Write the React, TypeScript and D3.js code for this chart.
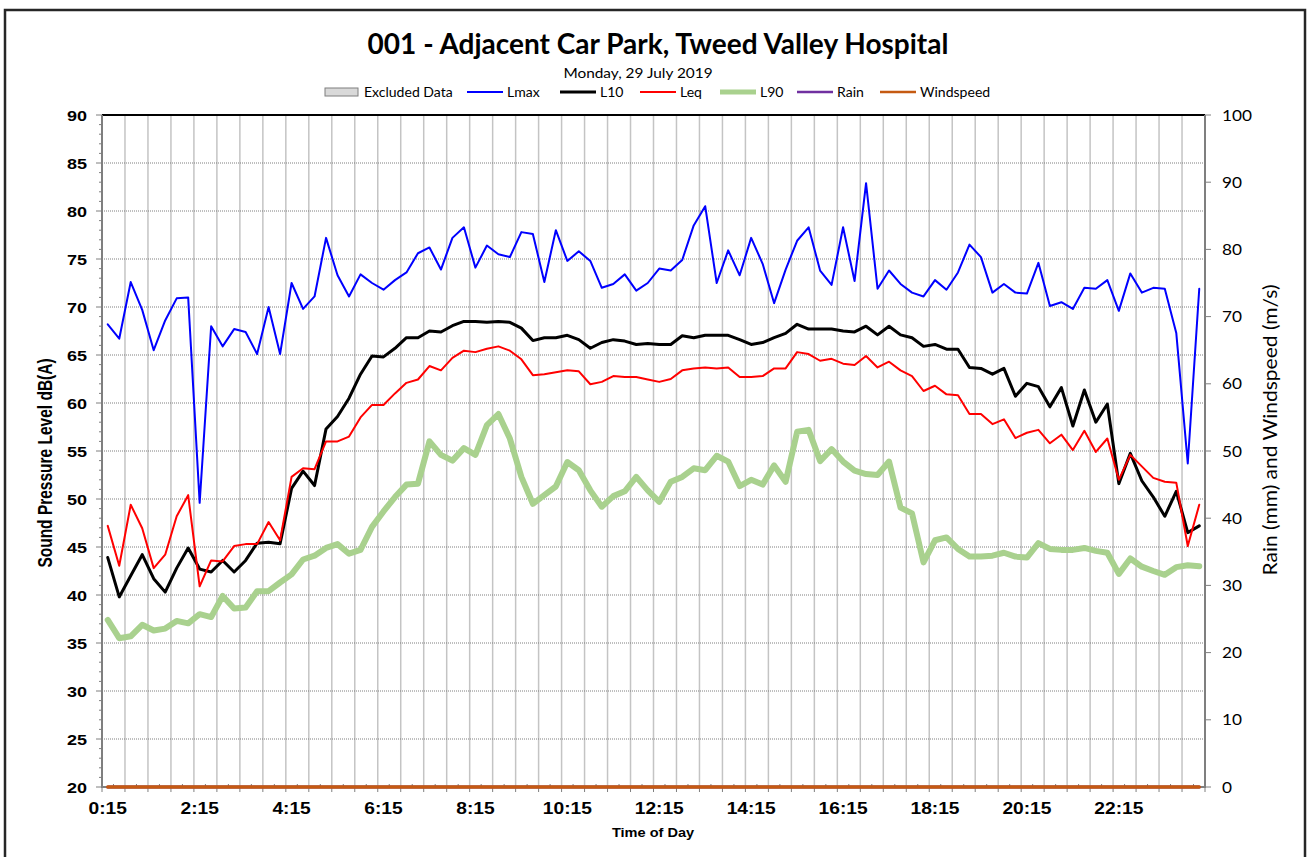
import React from 'react'
import * as d3 from 'd3'

// 15-minute intervals, 0:15 .. 24:00
const times = [
  '0:15', '0:30', '0:45', '1:00', '1:15', '1:30', '1:45', '2:00', '2:15', '2:30', '2:45', '3:00',
  '3:15', '3:30', '3:45', '4:00', '4:15', '4:30', '4:45', '5:00', '5:15', '5:30', '5:45', '6:00',
  '6:15', '6:30', '6:45', '7:00', '7:15', '7:30', '7:45', '8:00', '8:15', '8:30', '8:45', '9:00',
  '9:15', '9:30', '9:45', '10:00', '10:15', '10:30', '10:45', '11:00', '11:15', '11:30', '11:45', '12:00',
  '12:15', '12:30', '12:45', '13:00', '13:15', '13:30', '13:45', '14:00', '14:15', '14:30', '14:45', '15:00',
  '15:15', '15:30', '15:45', '16:00', '16:15', '16:30', '16:45', '17:00', '17:15', '17:30', '17:45', '18:00',
  '18:15', '18:30', '18:45', '19:00', '19:15', '19:30', '19:45', '20:00', '20:15', '20:30', '20:45', '21:00',
  '21:15', '21:30', '21:45', '22:00', '22:15', '22:30', '22:45', '23:00', '23:15', '23:30', '23:45', '24:00',
]
const tickLabels = ['0:15', '2:15', '4:15', '6:15', '8:15', '10:15', '12:15', '14:15', '16:15', '18:15', '20:15', '22:15']
const leftTicks = [20, 25, 30, 35, 40, 45, 50, 55, 60, 65, 70, 75, 80, 85, 90]
const rightTicks = [0, 10, 20, 30, 40, 50, 60, 70, 80, 90, 100]

const lmax = [
  68.2, 66.7, 72.6, 69.7, 65.5, 68.6, 70.9, 71.0, 49.6, 68.0,
  65.9, 67.7, 67.4, 65.1, 70.0, 65.1, 72.5, 69.8, 71.1, 77.2,
  73.3, 71.1, 73.4, 72.5, 71.8, 72.8, 73.6, 75.6, 76.2, 73.9,
  77.2, 78.3, 74.1, 76.4, 75.5, 75.2, 77.8, 77.6, 72.6, 78.0,
  74.8, 75.8, 74.8, 72.0, 72.4, 73.4, 71.7, 72.5, 74.0, 73.8,
  74.9, 78.5, 80.5, 72.5, 75.9, 73.3, 77.2, 74.5, 70.4, 73.9,
  76.9, 78.3, 73.8, 72.3, 78.3, 72.7, 82.9, 71.9, 73.8, 72.4,
  71.5, 71.1, 72.8, 71.8, 73.6, 76.5, 75.2, 71.5, 72.4, 71.5,
  71.4, 74.6, 70.1, 70.5, 69.8, 72.0, 71.9, 72.8, 69.6, 73.5,
  71.5, 72.0, 71.9, 67.3, 53.7, 71.9,
]
const l10 = [
  43.9, 39.8, 42.0, 44.2, 41.7, 40.3, 42.8, 44.9, 42.7, 42.4,
  43.6, 42.4, 43.6, 45.4, 45.5, 45.35, 51.1, 52.9, 51.4, 57.3,
  58.6, 60.5, 63.0, 64.9, 64.8, 65.7, 66.8, 66.8, 67.5, 67.4,
  68.05, 68.5, 68.5, 68.4, 68.5, 68.4, 67.8, 66.5, 66.8, 66.8,
  67.05, 66.6, 65.7, 66.3, 66.6, 66.45, 66.1, 66.2, 66.1, 66.1,
  67.0, 66.8, 67.05, 67.05, 67.05, 66.6, 66.1, 66.3, 66.8, 67.25,
  68.2, 67.7, 67.7, 67.7, 67.5, 67.4, 68.0, 67.1, 68.0, 67.1,
  66.8, 65.9, 66.1, 65.6, 65.6, 63.7, 63.6, 63.0, 63.6, 60.7,
  62.05, 61.7, 59.6, 61.6, 57.6, 61.35, 58.0, 59.9, 51.6, 54.75,
  51.9, 50.2, 48.2, 50.8, 46.5, 47.2,
]
const leq = [
  47.2, 43.05, 49.4, 46.95, 42.8, 44.2, 48.2, 50.4, 40.9, 43.6,
  43.5, 45.1, 45.3, 45.3, 47.6, 45.7, 52.3, 53.2, 53.1, 56.0,
  56.0, 56.5, 58.5, 59.8, 59.8, 61.0, 62.1, 62.45, 63.85, 63.4,
  64.7, 65.45, 65.3, 65.65, 65.9, 65.45, 64.55, 62.9, 63.0, 63.2,
  63.4, 63.3, 61.95, 62.2, 62.8, 62.7, 62.7, 62.45, 62.2, 62.5,
  63.4, 63.6, 63.7, 63.6, 63.7, 62.7, 62.7, 62.8, 63.6, 63.6,
  65.3, 65.1, 64.4, 64.6, 64.1, 63.95, 64.9, 63.7, 64.3, 63.4,
  62.8, 61.25, 61.8, 60.9, 60.8, 58.85, 58.85, 57.8, 58.3, 56.35,
  56.9, 57.2, 55.8, 56.7, 55.1, 57.1, 54.9, 56.3, 52.0, 54.6,
  53.4, 52.2, 51.8, 51.7, 45.1, 49.4,
]
const l90 = [
  37.4, 35.5, 35.7, 36.9, 36.3, 36.5, 37.3, 37.05, 38.0, 37.7,
  39.9, 38.6, 38.7, 40.4, 40.4, 41.3, 42.15, 43.7, 44.1, 44.9,
  45.3, 44.3, 44.7, 47.1, 48.7, 50.2, 51.5, 51.6, 56.0, 54.6,
  54.0, 55.3, 54.6, 57.7, 58.85, 56.3, 52.3, 49.5, 50.4, 51.3,
  53.85, 53.0, 50.9, 49.2, 50.3, 50.8, 52.3, 50.9, 49.7, 51.8,
  52.3, 53.2, 53.0, 54.5, 53.9, 51.35, 52.0, 51.5, 53.5, 51.8,
  57.0, 57.2, 53.95, 55.2, 53.9, 52.95, 52.6, 52.5, 53.9, 49.1,
  48.5, 43.4, 45.7, 46.0, 44.8, 44.0, 44.0, 44.1, 44.4, 44.0,
  43.9, 45.4, 44.8, 44.7, 44.7, 44.9, 44.6, 44.4, 42.2, 43.8,
  42.95, 42.5, 42.1, 42.9, 43.1, 43.0,
]
const rain = [
  0, 0, 0, 0, 0, 0, 0, 0, 0, 0, 0, 0, 0, 0, 0, 0, 0, 0, 0, 0, 0, 0, 0, 0,
  0, 0, 0, 0, 0, 0, 0, 0, 0, 0, 0, 0, 0, 0, 0, 0, 0, 0, 0, 0, 0, 0, 0, 0,
  0, 0, 0, 0, 0, 0, 0, 0, 0, 0, 0, 0, 0, 0, 0, 0, 0, 0, 0, 0, 0, 0, 0, 0,
  0, 0, 0, 0, 0, 0, 0, 0, 0, 0, 0, 0, 0, 0, 0, 0, 0, 0, 0, 0, 0, 0, 0, 0,
]
const windspeed = [
  0, 0, 0, 0, 0, 0, 0, 0, 0, 0, 0, 0, 0, 0, 0, 0, 0, 0, 0, 0, 0, 0, 0, 0,
  0, 0, 0, 0, 0, 0, 0, 0, 0, 0, 0, 0, 0, 0, 0, 0, 0, 0, 0, 0, 0, 0, 0, 0,
  0, 0, 0, 0, 0, 0, 0, 0, 0, 0, 0, 0, 0, 0, 0, 0, 0, 0, 0, 0, 0, 0, 0, 0,
  0, 0, 0, 0, 0, 0, 0, 0, 0, 0, 0, 0, 0, 0, 0, 0, 0, 0, 0, 0, 0, 0, 0, 0,
]

const W = 1309
const H = 857
const margin = { left: 102, right: 1205, top: 115, bottom: 787 }
const ARIAL = '"Liberation Sans", Arial, sans-serif'
const CAL = 'Lato, "Open Sans", sans-serif'

// text with a little horizontal stretch, like the exported Excel chart
const Txt = ({ x, y, sx = 1, rot = 0, children, ...rest }: any) => (
  <text transform={`translate(${x},${y}) scale(${sx},1)${rot ? ` rotate(${rot})` : ''}`} {...rest}>
    {children}
  </text>
)

export default function App() {
  const xEdge = d3.scaleLinear().domain([0, times.length]).range([margin.left, margin.right])
  const xc = (i: number) => xEdge(i + 0.5)
  const yL = d3.scaleLinear().domain([20, 90]).range([margin.bottom, margin.top])
  const yR = d3.scaleLinear().domain([0, 100]).range([margin.bottom, margin.top])

  const lineL = d3.line<number>().x((d, i) => xc(i)).y(d => yL(d))
  const lineR = d3.line<number>().x((d, i) => xc(i)).y(d => yR(d))

  const series = [
    { name: 'Lmax', data: lmax, color: '#0000ff', w: 2, gen: lineL },
    { name: 'L10', data: l10, color: '#000000', w: 3, gen: lineL },
    { name: 'Leq', data: leq, color: '#ff0000', w: 2, gen: lineL },
    { name: 'L90', data: l90, color: '#a9d18e', w: 6, gen: lineL },
    { name: 'Rain', data: rain, color: '#7030a0', w: 3, gen: lineR },
    { name: 'Windspeed', data: windspeed, color: '#c55a11', w: 3.5, gen: lineR },
  ]

  const legend = [
    { name: 'Lmax', x: 467, color: '#0000ff', w: 2 },
    { name: 'L10', x: 560, color: '#000000', w: 3 },
    { name: 'Leq', x: 640, color: '#ff0000', w: 2 },
    { name: 'L90', x: 720, color: '#a9d18e', w: 5 },
    { name: 'Rain', x: 797, color: '#7030a0', w: 2.5 },
    { name: 'Windspeed', x: 880, color: '#c55a11', w: 2.5 },
  ]
  const legY = 92

  const minorLeft = d3.range(20, 91, 1).filter(v => v % 5 !== 0)

  return (
    <svg width={W} height={H} style={{ position: 'absolute', left: 0, top: 0, background: '#fff' }}>
      <rect x={0} y={0} width={W} height={H} fill="#fff" />
      <rect x={5} y={10} width={1300} height={870} fill="none" stroke="#262626" strokeWidth={2.5} />

      {/* titles */}
      <Txt x={658} y={54} textAnchor="middle" fontFamily={CAL} fontWeight="bold" fontSize={28} fill="#000">
        001 - Adjacent Car Park, Tweed Valley Hospital
      </Txt>
      <Txt x={638} y={78} sx={1.1} textAnchor="middle" fontFamily={CAL} fontSize={14} fill="#000">
        Monday, 29 July 2019
      </Txt>

      {/* legend */}
      <rect x={325} y={88} width={33} height={8} fill="#d9d9d9" stroke="#7f7f7f" strokeWidth={1} />
      <Txt x={364} y={legY + 4.5} sx={1.04} fontFamily={CAL} fontSize={13.5} fill="#000">Excluded Data</Txt>
      {legend.map(l => (
        <g key={l.name}>
          <line x1={l.x} x2={l.x + 36} y1={legY} y2={legY} stroke={l.color} strokeWidth={l.w} />
          <Txt x={l.x + 40} y={legY + 4.5} sx={1.04} fontFamily={CAL} fontSize={13.5} fill="#000">{l.name}</Txt>
        </g>
      ))}

      {/* grid */}
      {d3.range(2, times.length, 2).map(k => (
        <line key={'v' + k} x1={xEdge(k)} x2={xEdge(k)} y1={margin.top} y2={margin.bottom} stroke="#c4c4c4" strokeWidth={1.5} />
      ))}
      {leftTicks.filter(v => v > 20 && v < 90).map(v => (
        <line key={'h' + v} x1={margin.left} x2={margin.right} y1={yL(v)} y2={yL(v)} stroke="#7f7f7f" strokeWidth={1} strokeDasharray="1,1" />
      ))}

      {/* axes */}
      <line x1={margin.left} x2={margin.right} y1={margin.top} y2={margin.top} stroke="#000" strokeWidth={2} />
      <line x1={margin.left} x2={margin.right} y1={margin.bottom} y2={margin.bottom} stroke="#7f7f7f" strokeWidth={2} />
      <line x1={margin.left} x2={margin.left} y1={margin.top} y2={margin.bottom + 1} stroke="#7f7f7f" strokeWidth={2} />
      <line x1={margin.right} x2={margin.right} y1={margin.top} y2={margin.bottom + 1} stroke="#7f7f7f" strokeWidth={2} />
      {leftTicks.map(v => (
        <line key={'lt' + v} x1={margin.left - 6} x2={margin.left} y1={yL(v)} y2={yL(v)} stroke="#7f7f7f" strokeWidth={1} />
      ))}
      {minorLeft.map(v => (
        <line key={'lm' + v} x1={margin.left - 3} x2={margin.left} y1={yL(v)} y2={yL(v)} stroke="#7f7f7f" strokeWidth={1} />
      ))}
      {rightTicks.map(v => (
        <line key={'rt' + v} x1={margin.right} x2={margin.right + 6} y1={yR(v)} y2={yR(v)} stroke="#7f7f7f" strokeWidth={1} />
      ))}
      {d3.range(0, times.length + 1, 2).map(k => (
        <line key={'xt' + k} x1={xEdge(k)} x2={xEdge(k)} y1={margin.bottom} y2={margin.bottom + 5} stroke="#7f7f7f" strokeWidth={1} />
      ))}
      {d3.range(1, times.length, 2).map(k => (
        <line key={'xm' + k} x1={xEdge(k)} x2={xEdge(k)} y1={margin.bottom - 3} y2={margin.bottom} stroke="#7f7f7f" strokeWidth={1} />
      ))}

      {/* series */}
      {series.map(s => (
        <path key={s.name} d={s.gen(s.data) || ''} fill="none" stroke={s.color} strokeWidth={s.w} strokeLinejoin="round" strokeLinecap="round" />
      ))}

      {/* tick labels */}
      {leftTicks.map(v => (
        <Txt key={'ll' + v} x={87} y={yL(v) + 5.5} sx={1.2} textAnchor="end" fontFamily={ARIAL} fontWeight="bold" fontSize={15} fill="#000">
          {v}
        </Txt>
      ))}
      {rightTicks.map(v => (
        <Txt key={'rl' + v} x={1222} y={yR(v) + 5.5} sx={1.15} fontFamily={CAL} fontSize={15} fill="#000">
          {v}
        </Txt>
      ))}
      {tickLabels.map(t => {
        const i = times.indexOf(t)
        return (
          <Txt key={'xl' + t} x={xc(i)} y={814} sx={1.2} textAnchor="middle" fontFamily={ARIAL} fontWeight="bold" fontSize={16} fill="#000">
            {t}
          </Txt>
        )
      })}

      {/* axis titles */}
      <Txt x={653} y={837} sx={1.12} textAnchor="middle" fontFamily={ARIAL} fontWeight="bold" fontSize={13} fill="#000">
        Time of Day
      </Txt>
      <Txt x={52} y={463} sx={1.3} rot={-90} textAnchor="middle" fontFamily={ARIAL} fontWeight="bold" fontSize={15.5} fill="#000">
        Sound Pressure Level dB(A)
      </Txt>
      <Txt x={1277} y={430} sx={0.95} rot={-90} textAnchor="middle" fontFamily={CAL} fontSize={21} fill="#000">
        Rain (mm) and Windspeed (m/s)
      </Txt>
    </svg>
  )
}
